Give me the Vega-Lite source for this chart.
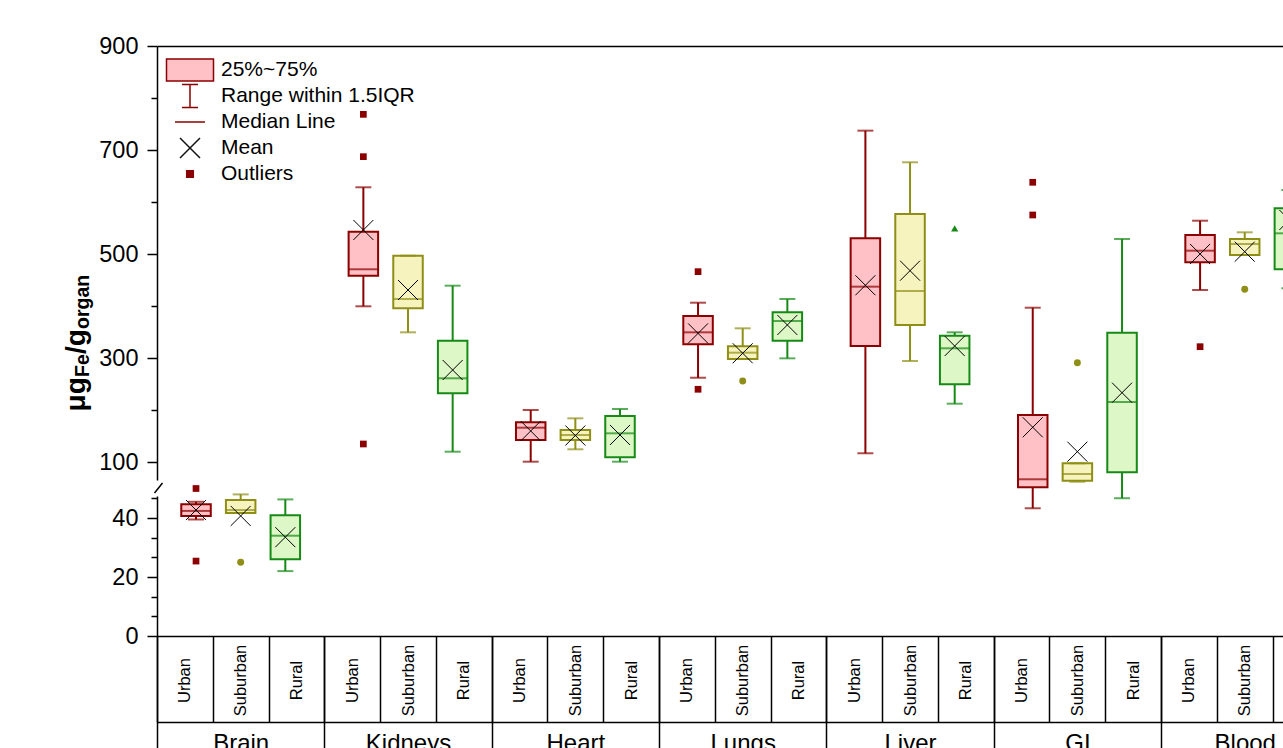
{
  "$schema": "https://vega.github.io/schema/vega-lite/v6.json",
  "autosize": {"type": "none"},
  "padding": {"left": 157, "top": 46, "right": 0, "bottom": 112},
  "width": 1126,
  "height": 590,
  "background": "white",
  "config": {
    "view": {"stroke": null},
    "axis": {"grid": false, "labelFont": "Liberation Sans", "titleFont": "Liberation Sans", "labelColor": "black", "titleColor": "black"},
    "legend": {"labelFont": "Liberation Sans"}
  },
  "datasets": {
    "stats": [
      {"organ": "Brain", "cond": "Urban", "lo": 39.5, "q1": 40.7, "median": 42.4, "mean": 42.7, "q3": 44.7, "hi": 45.5},
      {"organ": "Brain", "cond": "Suburban", "lo": 41.7, "q1": 41.7, "median": 42.7, "mean": 40.7, "q3": 46.1, "hi": 48.0},
      {"organ": "Brain", "cond": "Rural", "lo": 22.0, "q1": 26.0, "median": 34.0, "mean": 33.5, "q3": 40.9, "hi": 46.3},
      {"organ": "Kidneys", "cond": "Urban", "lo": 400, "q1": 458.8, "median": 471.1, "mean": 546.6, "q3": 543.3, "hi": 628.6},
      {"organ": "Kidneys", "cond": "Suburban", "lo": 350, "q1": 396.1, "median": 414, "mean": 431.3, "q3": 497.2, "hi": 497.2},
      {"organ": "Kidneys", "cond": "Rural", "lo": 120.7, "q1": 232.8, "median": 261.7, "mean": 277.6, "q3": 333.9, "hi": 439.6},
      {"organ": "Heart", "cond": "Urban", "lo": 101.5, "q1": 143, "median": 166.8, "mean": 160.5, "q3": 177.2, "hi": 200.8},
      {"organ": "Heart", "cond": "Suburban", "lo": 125.3, "q1": 143, "median": 152.8, "mean": 151.8, "q3": 162.4, "hi": 184.8},
      {"organ": "Heart", "cond": "Rural", "lo": 101.5, "q1": 110, "median": 156, "mean": 152.8, "q3": 189.3, "hi": 202.7},
      {"organ": "Lungs", "cond": "Urban", "lo": 262.8, "q1": 327, "median": 350, "mean": 348, "q3": 381.4, "hi": 406.9},
      {"organ": "Lungs", "cond": "Suburban", "lo": 298.8, "q1": 298.8, "median": 310.9, "mean": 309.8, "q3": 323.1, "hi": 357.7},
      {"organ": "Lungs", "cond": "Rural", "lo": 300, "q1": 333.9, "median": 371.8, "mean": 364.1, "q3": 388.5, "hi": 414},
      {"organ": "Liver", "cond": "Urban", "lo": 117.7, "q1": 323.7, "median": 437.7, "mean": 440.4, "q3": 530.6, "hi": 737.4},
      {"organ": "Liver", "cond": "Suburban", "lo": 294.9, "q1": 364.1, "median": 429.4, "mean": 468.4, "q3": 577.3, "hi": 676.6},
      {"organ": "Liver", "cond": "Rural", "lo": 212.9, "q1": 250.2, "median": 319.3, "mean": 323.7, "q3": 343.5, "hi": 350},
      {"organ": "GI", "cond": "Urban", "lo": 43.3, "q1": 52.3, "median": 67.7, "mean": 167.6, "q3": 191.2, "hi": 397.3},
      {"organ": "GI", "cond": "Suburban", "lo": 63, "q1": 65, "median": 77.9, "mean": 120.7, "q3": 98.4, "hi": 98.4},
      {"organ": "GI", "cond": "Rural", "lo": 46.7, "q1": 81.2, "median": 216.2, "mean": 234, "q3": 349.3, "hi": 529.3},
      {"organ": "Blood", "cond": "Urban", "lo": 431.3, "q1": 484.5, "median": 506.8, "mean": 500.5, "q3": 537, "hi": 564.4},
      {"organ": "Blood", "cond": "Suburban", "lo": 498.5, "q1": 498.5, "median": 519.7, "mean": 504.9, "q3": 529.3, "hi": 542.1},
      {"organ": "Blood", "cond": "Rural", "lo": 434.6, "q1": 471.1, "median": 540.2, "mean": 565.8, "q3": 588.2, "hi": 623.4}
    ],
    "outliers": [
      {"organ": "Brain", "cond": "Urban", "value": 50},
      {"organ": "Brain", "cond": "Urban", "value": 25.4},
      {"organ": "Brain", "cond": "Suburban", "value": 25.0},
      {"organ": "Kidneys", "cond": "Urban", "value": 768.7},
      {"organ": "Kidneys", "cond": "Urban", "value": 687.4},
      {"organ": "Kidneys", "cond": "Urban", "value": 135.5},
      {"organ": "Lungs", "cond": "Urban", "value": 466.5},
      {"organ": "Lungs", "cond": "Urban", "value": 240.6},
      {"organ": "Lungs", "cond": "Suburban", "value": 256.5},
      {"organ": "Liver", "cond": "Rural", "value": 549.8},
      {"organ": "GI", "cond": "Urban", "value": 638.2},
      {"organ": "GI", "cond": "Urban", "value": 575.4},
      {"organ": "GI", "cond": "Suburban", "value": 291.7},
      {"organ": "Blood", "cond": "Urban", "value": 322.4},
      {"organ": "Blood", "cond": "Suburban", "value": 432.6}
    ],
    "cells": [
      {"cell": "Brain|Urban"}, {"cell": "Brain|Suburban"}, {"cell": "Brain|Rural"},
      {"cell": "Kidneys|Urban"}, {"cell": "Kidneys|Suburban"}, {"cell": "Kidneys|Rural"},
      {"cell": "Heart|Urban"}, {"cell": "Heart|Suburban"}, {"cell": "Heart|Rural"},
      {"cell": "Lungs|Urban"}, {"cell": "Lungs|Suburban"}, {"cell": "Lungs|Rural"},
      {"cell": "Liver|Urban"}, {"cell": "Liver|Suburban"}, {"cell": "Liver|Rural"},
      {"cell": "GI|Urban"}, {"cell": "GI|Suburban"}, {"cell": "GI|Rural"},
      {"cell": "Blood|Urban"}, {"cell": "Blood|Suburban"}, {"cell": "Blood|Rural"}
    ],
    "legendItems": [
      {"item": "25%~75%"}, {"item": "Range within 1.5IQR"}, {"item": "Median Line"}, {"item": "Mean"}, {"item": "Outliers"}
    ],
    "axisBreak": [{"v": 50}]
  },
  "layer": [
    {
      "data": {"name": "stats"},
      "layer": [
        {
          "mark": {"type": "rule", "strokeWidth": 2},
          "encoding": {
            "x": {"field": "organ", "type": "nominal", "title": null,
              "scale": {"domain": ["Brain", "Kidneys", "Heart", "Lungs", "Liver", "GI", "Blood"], "range": [0, 1171.4], "paddingInner": 0, "paddingOuter": 0},
              "axis": {"orient": "bottom", "tickBand": "extent", "tickSize": 112, "tickWidth": 1.5, "tickColor": "black", "domainColor": "black", "domainWidth": 1.5, "labelAngle": 0, "labelFontSize": 24, "labelBaseline": "alphabetic", "labelPadding": 2, "labelOverlap": false}},
            "xOffset": {"field": "cond", "type": "nominal", "scale": {"domain": ["Urban", "Suburban", "Rural"], "paddingInner": 0.3393, "paddingOuter": 0.5436}},
            "y": {"field": "lo", "type": "quantitative", "title": null,
              "scale": {"type": "linear", "domain": [0, 50, 900], "range": [590, 442.5, 0], "nice": false, "zero": false},
              "axis": {"orient": "left", "values": [0, 20, 40, 100, 300, 500, 700, 900], "tickSize": 10, "tickWidth": 1.5, "tickColor": "black", "domainColor": "black", "domainWidth": 1.5, "labelFontSize": 23.5, "labelPadding": 9, "labelFlush": false, "labelOverlap": false}},
            "y2": {"field": "hi"},
            "color": {"field": "cond", "type": "nominal", "scale": {"domain": ["Urban", "Suburban", "Rural"], "range": ["#8B0000", "#8F8F17", "#168A16"]}, "legend": null}
          }
        },
        {
          "mark": {"type": "bar", "strokeWidth": 2},
          "encoding": {
            "x": {"field": "organ", "type": "nominal", "title": null},
            "xOffset": {"field": "cond", "type": "nominal"},
            "y": {"field": "q1", "type": "quantitative", "title": null},
            "y2": {"field": "q3"},
            "fill": {"field": "cond", "type": "nominal", "scale": {"domain": ["Urban", "Suburban", "Rural"], "range": ["#FFC0C6", "#F7F3BE", "#DDF7C6"]}, "legend": null},
            "stroke": {"field": "cond", "type": "nominal", "scale": {"domain": ["Urban", "Suburban", "Rural"], "range": ["#8B0000", "#8F8F17", "#168A16"]}, "legend": null}
          }
        },
        {
          "mark": {"type": "tick", "size": 16, "thickness": 2},
          "encoding": {
            "x": {"field": "organ", "type": "nominal", "title": null},
            "xOffset": {"field": "cond", "type": "nominal"},
            "y": {"field": "lo", "type": "quantitative", "title": null},
            "color": {"field": "cond", "type": "nominal", "legend": null}
          }
        },
        {
          "mark": {"type": "tick", "size": 16, "thickness": 2},
          "encoding": {
            "x": {"field": "organ", "type": "nominal", "title": null},
            "xOffset": {"field": "cond", "type": "nominal"},
            "y": {"field": "hi", "type": "quantitative", "title": null},
            "color": {"field": "cond", "type": "nominal", "legend": null}
          }
        },
        {
          "mark": {"type": "tick", "size": 29.5, "thickness": 2},
          "encoding": {
            "x": {"field": "organ", "type": "nominal", "title": null},
            "xOffset": {"field": "cond", "type": "nominal"},
            "y": {"field": "median", "type": "quantitative", "title": null},
            "color": {"field": "cond", "type": "nominal", "legend": null}
          }
        },
        {
          "mark": {"type": "point", "shape": "M-1,-1L1,1M-1,1L1,-1", "size": 400, "filled": false, "stroke": "black", "strokeWidth": 1, "opacity": 1},
          "encoding": {
            "x": {"field": "organ", "type": "nominal", "title": null},
            "xOffset": {"field": "cond", "type": "nominal"},
            "y": {"field": "mean", "type": "quantitative", "title": null}
          }
        },
        {
          "data": {"name": "outliers"},
          "mark": {"type": "point", "filled": true, "opacity": 1},
          "encoding": {
            "x": {"field": "organ", "type": "nominal", "title": null},
            "xOffset": {"field": "cond", "type": "nominal"},
            "y": {"field": "value", "type": "quantitative", "title": null},
            "shape": {"field": "cond", "type": "nominal", "scale": {"domain": ["Urban", "Suburban", "Rural"], "range": ["square", "circle", "triangle-up"]}, "legend": null},
            "size": {"field": "cond", "type": "nominal", "scale": {"domain": ["Urban", "Suburban", "Rural"], "range": [45, 52, 85]}, "legend": null},
            "color": {"field": "cond", "type": "nominal", "legend": null}
          }
        },
        {
          "data": {"name": "axisBreak"},
          "mark": {"type": "point", "shape": "M-0.7,-1.6H0.7V1.6H-0.7Z", "size": 100, "filled": true, "fill": "white", "strokeWidth": 0, "opacity": 1},
          "encoding": {
            "x": {"value": 0},
            "y": {"field": "v", "type": "quantitative", "title": null}
          }
        },
        {
          "data": {"name": "axisBreak"},
          "mark": {"type": "point", "shape": "M-0.5,0.9L1.1,-1.1", "size": 100, "filled": false, "stroke": "black", "strokeWidth": 1.5, "opacity": 1},
          "encoding": {
            "x": {"value": 0},
            "y": {"field": "v", "type": "quantitative", "title": null}
          }
        }
      ]
    },
    {
      "data": {"name": "cells"},
      "mark": {"type": "point", "opacity": 0},
      "encoding": {
        "x": {"field": "cell", "type": "nominal", "sort": null, "title": null,
          "scale": {"range": [0, 1171.4], "paddingInner": 0, "paddingOuter": 0},
          "axis": {"orient": "bottom", "domain": false, "tickBand": "extent", "tickSize": 86, "tickWidth": 1.5, "tickColor": "black", "labelAngle": 270, "labelAlign": "center", "labelBaseline": "middle", "labelPadding": -42, "labelFontSize": 16.5, "labelOverlap": false, "labelExpr": "split(datum.value, '|')[1]"}},
        "y": {"datum": 0, "type": "quantitative",
          "scale": {"type": "linear", "domain": [0, 50, 900], "range": [590, 442.5, 0], "nice": false, "zero": false},
          "axis": {"orient": "left", "domain": false, "ticks": false, "labels": false, "title": "μg", "titleAngle": 270, "titleAlign": "left", "titleBaseline": "alphabetic", "titleX": -73, "titleY": 365, "titleFontSize": 28, "titleFontWeight": "bold"}}
      }
    },
    {
      "data": {"name": "cells"},
      "mark": {"type": "point", "opacity": 0},
      "encoding": {
        "x": {"field": "cell", "type": "nominal", "sort": null, "title": null,
          "scale": {"range": [0, 1171.4], "paddingInner": 0, "paddingOuter": 0},
          "axis": {"orient": "bottom", "offset": 86, "domain": true, "domainColor": "black", "domainWidth": 1.5, "ticks": false, "labels": false}},
        "y": {"datum": 0, "type": "quantitative",
          "scale": {"type": "linear", "domain": [0, 50, 900], "range": [590, 442.5, 0], "nice": false, "zero": false},
          "axis": {"orient": "left", "domain": false, "ticks": false, "labels": false, "title": "Fe", "titleAngle": 270, "titleAlign": "left", "titleBaseline": "alphabetic", "titleX": -69, "titleY": 330.5, "titleFontSize": 19.5, "titleFontWeight": "bold"}}
      }
    },
    {
      "data": {"name": "cells"},
      "mark": {"type": "point", "opacity": 0},
      "encoding": {
        "x": {"field": "cell", "type": "nominal", "sort": null, "title": null,
          "scale": {"range": [0, 1171.4], "paddingInner": 0, "paddingOuter": 0},
          "axis": {"orient": "top", "domain": true, "domainColor": "black", "domainWidth": 1.5, "ticks": false, "labels": false}},
        "y": {"datum": 0, "type": "quantitative",
          "scale": {"type": "linear", "domain": [0, 50, 900], "range": [590, 442.5, 0], "nice": false, "zero": false},
          "axis": {"orient": "left", "domain": false, "ticks": false, "labels": false, "title": "/g", "titleAngle": 270, "titleAlign": "left", "titleBaseline": "alphabetic", "titleX": -73, "titleY": 307.5, "titleFontSize": 28, "titleFontWeight": "bold"}}
      }
    },
    {
      "data": {"name": "axisBreak"},
      "mark": {"type": "point", "opacity": 0},
      "encoding": {
        "y": {"datum": 0, "type": "quantitative",
          "scale": {"type": "linear", "domain": [0, 50, 900], "range": [590, 442.5, 0], "nice": false, "zero": false},
          "axis": {"orient": "left", "domain": false, "ticks": false, "labels": false, "title": "organ", "titleAngle": 270, "titleAlign": "left", "titleBaseline": "alphabetic", "titleX": -69, "titleY": 282.5, "titleFontSize": 19.5, "titleFontWeight": "bold"}}
      }
    },
    {
      "data": {"name": "axisBreak"},
      "mark": {"type": "point", "opacity": 0},
      "encoding": {
        "y": {"datum": 0, "type": "quantitative",
          "scale": {"type": "linear", "domain": [0, 50, 900], "range": [590, 442.5, 0], "nice": false, "zero": false},
          "axis": {"orient": "left", "domain": false, "labels": false, "title": null, "values": [6.667, 13.333, 26.667, 33.333, 46.667, 200, 400, 600, 800], "tickSize": 6, "tickWidth": 1.5, "tickColor": "black"}}
      }
    },
    {
      "data": {"name": "legendItems"},
      "mark": {"type": "point", "opacity": 0, "filled": true},
      "encoding": {
        "shape": {"field": "item", "type": "nominal",
          "scale": {"domain": ["25%~75%", "Range within 1.5IQR", "Median Line", "Mean", "Outliers"],
            "range": ["M-2.35,-1.1H2.35V1.1H-2.35Z", "M-0.8,-1.15H0.8M0,-1.15V1.15M-0.8,1.15H0.8", "M-1.5,0H1.5", "M-1,-1L1,1M-1,1L1,-1", "M-0.33,-0.33H0.33V0.33H-0.33Z"]},
          "legend": {"title": null, "orient": "none", "legendX": 22, "legendY": 13, "padding": 0, "symbolSize": 400, "symbolStrokeWidth": 1.5, "symbolOpacity": 1, "labelFontSize": 21, "labelColor": "black", "labelOffset": 20, "gridAlign": "all", "rowPadding": -4.1, "labelLimit": 0, "direction": "vertical"}},
        "fill": {"field": "item", "type": "nominal",
          "scale": {"domain": ["25%~75%", "Range within 1.5IQR", "Median Line", "Mean", "Outliers"], "range": ["#FFC0C6", "transparent", "transparent", "transparent", "#8B0000"]}},
        "stroke": {"field": "item", "type": "nominal",
          "scale": {"domain": ["25%~75%", "Range within 1.5IQR", "Median Line", "Mean", "Outliers"], "range": ["#8B0000", "#8B0000", "#8B0000", "#111111", "#8B0000"]}}
      }
    }
  ],
  "resolve": {
    "scale": {"x": "independent", "fill": "independent", "stroke": "independent", "shape": "independent", "color": "independent", "size": "independent"},
    "axis": {"x": "independent", "y": "independent"}
  }
}
